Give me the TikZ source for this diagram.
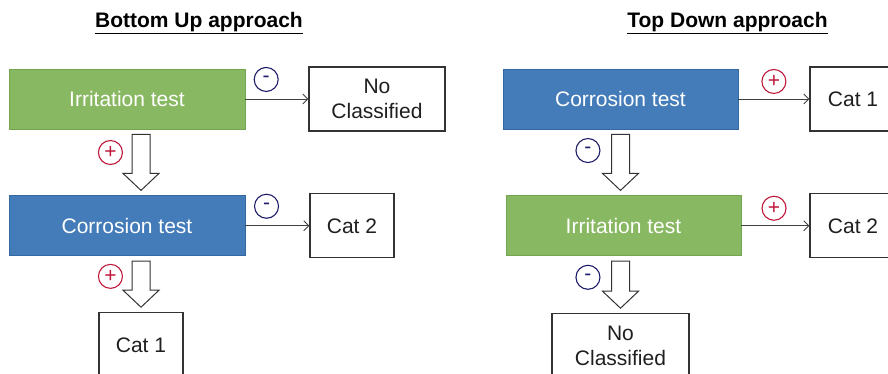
\documentclass[tikz,border=0pt]{standalone}
\usepackage{fontspec}
\setmainfont{Liberation Sans}
\usetikzlibrary{positioning,calc,arrows.meta}
\definecolor{testgreen}{RGB}{137,184,98}
\definecolor{testgreenline}{RGB}{115,165,80}
\definecolor{testblue}{RGB}{67,124,185}
\definecolor{testblueline}{RGB}{52,104,160}
\definecolor{signred}{RGB}{192,24,60}
\definecolor{signblue}{RGB}{30,28,104}
\tikzstyle{test} = [rectangle, minimum width=236pt, minimum height=60pt, text centered, text=white, line width=0.8pt]
\tikzstyle{result} = [rectangle, draw=black!80, line width=1.2pt, minimum height=64pt, align=center, text=black!88]
\tikzstyle{arrow} = [line width=0.9pt, draw=black!75, -{Straight Barb[length=5pt,width=10pt]}]
\tikzstyle{plus} = [circle, draw=signred, text=signred, line width=1.1pt, minimum size=24pt, inner sep=0pt, font=\fontsize{21}{21}\selectfont]
\tikzstyle{minus} = [circle, draw=signblue, text=signblue, line width=1.1pt, minimum size=24pt, inner sep=0pt, font=\fontsize{21}{21}\selectfont]
\tikzstyle{fat} = [draw=black!80, line width=1pt, fill=white,
  to path={let \p1=(\tikztostart), \p2=(\tikztotarget) in
    (\x1-9pt,\y1-5pt) -- (\x1-9pt,\y2+22pt) -- (\x1-18pt,\y2+22pt) -- (\x1,\y2+5pt)
    -- (\x1+18pt,\y2+22pt) -- (\x1+9pt,\y2+22pt) -- (\x1+9pt,\y1-5pt) -- cycle}]

\begin{document}
\begin{tikzpicture}[x=1pt,y=-1pt,font=\fontsize{21}{25}\selectfont]
\useasboundingbox (0,0) rectangle (888,373);
\clip (0,0) rectangle (888,373);

\node (titleL) at (199,23) {\bfseries\underline{Bottom Up approach}};
\node (titleR) at (727.5,23) {\bfseries\underline{Top Down approach}};

% bottom up
\node (irrL) [test, fill=testgreen, draw=testgreenline] at (127,99) {Irritation test};
\node (noL) [result, minimum width=136pt, right=63pt of irrL] {No\\Classified};
\node (corL) [test, fill=testblue, draw=testblueline, below=66pt of irrL] {Corrosion test};
\node (cat2L) [result, minimum width=84pt, right=64pt of corL] {Cat 2};
\node (cat1L) [result, minimum width=84pt, below=56pt of corL, xshift=14pt] {Cat 1};

% top down
\node (corR) [test, fill=testblue, draw=testblueline, minimum width=235pt] at (620.5,99) {Corrosion test};
\node (cat1R) [result, minimum width=86pt, right=71pt of corR] {Cat 1};
\node (irrR) [test, fill=testgreen, draw=testgreenline, minimum width=235pt, below=66pt of corR, xshift=3pt] {Irritation test};
\node (cat2R) [result, minimum width=86pt, right=68pt of irrR] {Cat 2};
\node (noR) [result, minimum width=137pt, below=57pt of irrR, xshift=-3pt] {No\\Classified};

\draw [arrow] (irrL) -- node[minus, pos=.33, above=7pt] {-} (noL);
\draw [arrow] (corL) -- node[minus, pos=.33, above=7pt] {-} (cat2L);
\draw [arrow] (corR) -- node[plus, pos=.5, above=5pt] {+} (cat1R);
\draw [arrow] (irrR) -- node[plus, pos=.48, above=5pt] {+} (cat2R);

\draw [fat] (irrL.south -| cat1L) to (corL.north -| cat1L);
\path (irrL.south -| cat1L) -- node[plus, pos=.35, left=18pt] {+} (corL.north -| cat1L);
\draw [fat] (corL.south -| cat1L) to (cat1L.north);
\path (corL.south -| cat1L) -- node[plus, pos=.36, left=18pt] {+} (cat1L.north);
\draw [fat] (corR.south -| noR) to (irrR.north -| noR);
\path (corR.south -| noR) -- node[minus, pos=.32, left=20pt] {-} (irrR.north -| noR);
\draw [fat] (irrR.south -| noR) to (noR.north);
\path (irrR.south -| noR) -- node[minus, pos=.37, left=20pt] {-} (noR.north);

\end{tikzpicture}
\end{document}
